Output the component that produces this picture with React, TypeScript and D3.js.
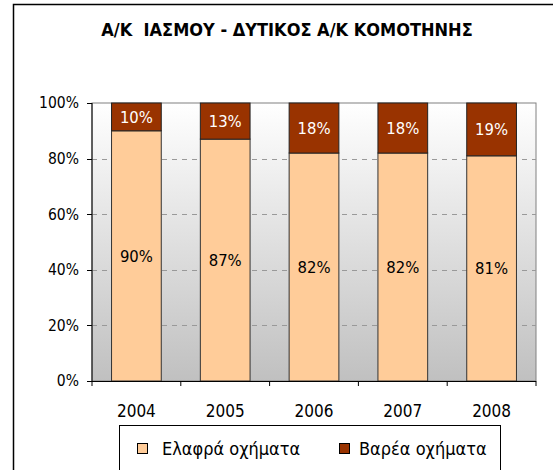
import React from "react";
import * as d3 from "d3";

const years = ["2004", "2005", "2006", "2007", "2008"];
const lightValues = [90, 87, 82, 82, 81];
const heavyValues = [10, 13, 18, 18, 19];
const yTicks = [0, 20, 40, 60, 80, 100];
const seriesNames = ["Ελαφρά οχήματα", "Βαρέα οχήματα"];
const title = "Α/Κ  ΙΑΣΜΟΥ - ΔΥΤΙΚΟΣ Α/Κ ΚΟΜΟΤΗΝΗΣ";

const FONT = "'DejaVu Sans Condensed', 'DejaVu Sans', sans-serif";
const LIGHT = "#FFCC99";
const HEAVY = "#993300";

export default function App() {
  const W = 553, H = 470;
  const left = 92, right = 536, top = 103, bottom = 381;
  const x = d3.scaleBand<string>().domain(years).range([left, right]).paddingInner(0.44).paddingOuter(0.22);
  const y = d3.scaleLinear().domain([0, 100]).range([bottom, top]);
  const bw = x.bandwidth();
  const step = (right - left) / years.length;

  return (
    <svg width={W} height={H} style={{ position: "absolute", left: 0, top: 0, fontFamily: FONT }}>
      <defs>
        <linearGradient id="bg" x1="0" y1="0" x2="0" y2="1">
          <stop offset="0" stopColor="#ffffff" />
          <stop offset="1" stopColor="#c0c0c0" />
        </linearGradient>
      </defs>
      <rect x={0} y={0} width={W} height={H} fill="#fff" />
      {/* outer border */}
      <path d={`M13.5,${H} V4.5 H${W}`} fill="none" stroke="#000" strokeWidth={1.5} />
      <text x={287} y={36} textAnchor="middle" fontWeight="bold" fontSize={18} fill="#000" style={{ whiteSpace: "pre" }}>{title}</text>

      {/* plot background */}
      <rect x={left} y={top} width={right - left} height={bottom - top} fill="url(#bg)" stroke="#808080" strokeWidth={1} />
      {yTicks.filter(t => t > 0 && t < 100).map(t => (
        <line key={t} x1={left} x2={right} y1={Math.round(y(t)) + 0.5} y2={Math.round(y(t)) + 0.5}
          stroke="#999" strokeDasharray="5,5" strokeWidth={1} />
      ))}

      {/* bars */}
      {years.map((yr, i) => {
        const x0 = x(yr)!;
        const yl = y(lightValues[i]);
        const yh = y(lightValues[i] + heavyValues[i]);
        return (
          <g key={yr}>
            <rect x={x0} y={yl} width={bw} height={bottom - yl} fill={LIGHT} stroke="#333" strokeWidth={1} />
            <rect x={x0} y={yh} width={bw} height={yl - yh} fill={HEAVY} stroke="#222" strokeWidth={1} />
            <text x={x0 + bw / 2} y={(yl + bottom) / 2} dy="0.35em" textAnchor="middle" fontSize={16.5} fill="#000">{lightValues[i]}%</text>
            <text x={x0 + bw / 2} y={(yh + yl) / 2} dy="0.35em" textAnchor="middle" fontSize={16.5} fill="#fff">{heavyValues[i]}%</text>
          </g>
        );
      })}

      {/* axes */}
      <line x1={left} x2={left} y1={top} y2={bottom} stroke="#000" />
      <line x1={left - 4} x2={right} y1={bottom + 0.5} y2={bottom + 0.5} stroke="#000" />
      {yTicks.map(t => (
        <g key={t}>
          <line x1={left - 5} x2={left} y1={Math.round(y(t)) + 0.5} y2={Math.round(y(t)) + 0.5} stroke="#000" />
          <text x={left - 13} y={y(t)} dy="0.35em" textAnchor="end" fontSize={15.5} fill="#000">{t}%</text>
        </g>
      ))}
      {d3.range(years.length + 1).map(i => (
        <line key={i} x1={left + i * step} x2={left + i * step} y1={bottom} y2={bottom + 5} stroke="#000" />
      ))}
      {years.map(yr => (
        <text key={yr} x={x(yr)! + bw / 2} y={411} dy="0.35em" textAnchor="middle" fontSize={17} fill="#000">{yr}</text>
      ))}

      {/* legend */}
      <rect x={119.5} y={425.5} width={381} height={60} fill="#fff" stroke="#000" strokeWidth={1} />
      <rect x={137.5} y={443.5} width={10} height={10} fill={LIGHT} stroke="#000" />
      <text x={162} y={449} dy="0.35em" fontSize={18} fill="#000">{seriesNames[0]}</text>
      <rect x={339.5} y={443.5} width={10} height={10} fill={HEAVY} stroke="#000" />
      <text x={359} y={449} dy="0.35em" fontSize={18} fill="#000">{seriesNames[1]}</text>
    </svg>
  );
}
